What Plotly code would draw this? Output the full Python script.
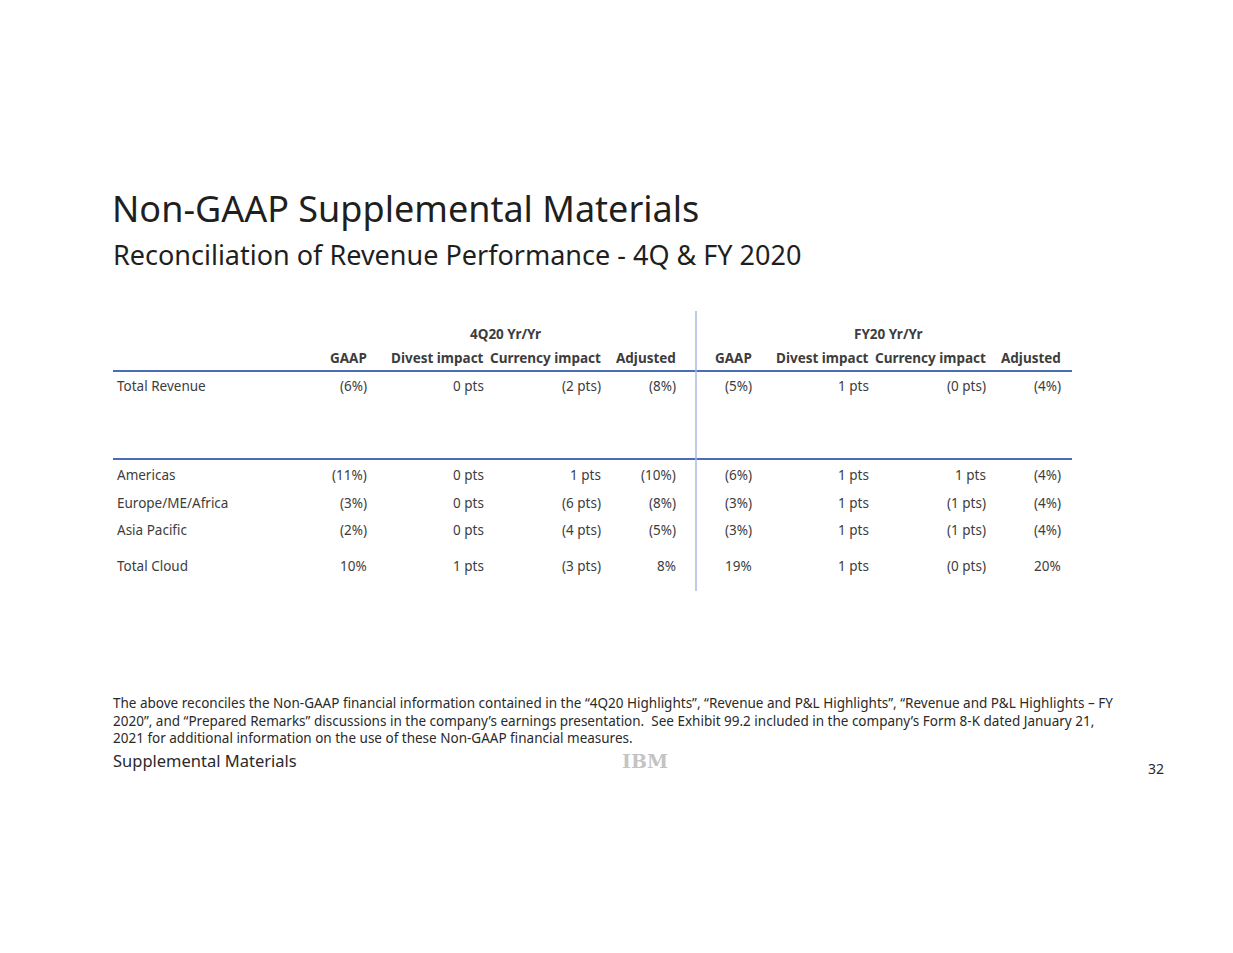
import plotly.graph_objects as go

W, H = 1233, 953
OFF = 8  # default page body margin

title = "Non-GAAP Supplemental Materials"
subtitle = "Reconciliation of Revenue Performance - 4Q & FY 2020"

group_headers = ["4Q20 Yr/Yr", "FY20 Yr/Yr"]
col_headers = ["GAAP", "Divest impact", "Currency impact", "Adjusted",
               "GAAP", "Divest impact", "Currency impact", "Adjusted"]

row_labels = ["Total Revenue", "Americas", "Europe/ME/Africa", "Asia Pacific", "Total Cloud"]

q4_gaap = ["(6%)", "(11%)", "(3%)", "(2%)", "10%"]
q4_divest = ["0 pts", "0 pts", "0 pts", "0 pts", "1 pts"]
q4_currency = ["(2 pts)", "1 pts", "(6 pts)", "(4 pts)", "(3 pts)"]
q4_adjusted = ["(8%)", "(10%)", "(8%)", "(5%)", "8%"]

fy_gaap = ["(5%)", "(6%)", "(3%)", "(3%)", "19%"]
fy_divest = ["1 pts", "1 pts", "1 pts", "1 pts", "1 pts"]
fy_currency = ["(0 pts)", "1 pts", "(1 pts)", "(1 pts)", "(0 pts)"]
fy_adjusted = ["(4%)", "(4%)", "(4%)", "(4%)", "20%"]

footnote = ("The above reconciles the Non-GAAP financial information contained in the \u201c4Q20 Highlights\u201d, "
            "\u201cRevenue and P&L Highlights\u201d, \u201cRevenue and P&L Highlights \u2013 FY<br>"
            "2020\u201d, and \u201cPrepared Remarks\u201d discussions in the company\u2019s earnings presentation.  "
            "See Exhibit 99.2 included in the company\u2019s Form 8-K dated January 21,<br>"
            "2021 for additional information on the use of these Non-GAAP financial measures.")
footer_left = "Supplemental Materials"
page_num = "32"

# layout positions (pixels, page coordinates)
col_x = [369, 486, 603, 678, 754, 871, 988, 1063]
row_y = [386, 475, 503, 530, 566]
group_x = [505, 888]

FONT = "Noto Sans"
TXT = "#3d3d3d"
FS = 13.5

fig = go.Figure()
fig.add_trace(go.Scatter(x=[OFF, W - OFF], y=[OFF, H - OFF], mode="markers", marker=dict(opacity=0),
                         hoverinfo="skip", showlegend=False))

ann = []
ann.append(dict(x=110, y=208, text=title, xanchor="left", yanchor="middle",
                font=dict(family=FONT, size=36, color="#1f1f1f")))
ann.append(dict(x=111, y=254, text=subtitle, xanchor="left", yanchor="middle",
                font=dict(family=FONT, size=27, color="#1f1f1f")))

for gx, gh in zip(group_x, group_headers):
    ann.append(dict(x=gx, y=334, text="<b>" + gh + "</b>", xanchor="center", yanchor="middle",
                    font=dict(family=FONT, size=FS, color=TXT)))
for cx, ch in zip(col_x, col_headers):
    ann.append(dict(x=cx, y=358, text="<b>" + ch + "</b>", xanchor="right", yanchor="middle",
                    font=dict(family=FONT, size=FS, color=TXT)))

for ry, rl in zip(row_y, row_labels):
    ann.append(dict(x=115, y=ry, text=rl, xanchor="left", yanchor="middle",
                    font=dict(family=FONT, size=FS, color=TXT)))

cols = [q4_gaap, q4_divest, q4_currency, q4_adjusted, fy_gaap, fy_divest, fy_currency, fy_adjusted]
for cx, vals in zip(col_x, cols):
    for ry, v in zip(row_y, vals):
        ann.append(dict(x=cx, y=ry, text=v, xanchor="right", yanchor="middle",
                        font=dict(family=FONT, size=FS, color=TXT)))

ann.append(dict(x=111, y=720, text=footnote, xanchor="left", yanchor="middle", align="left",
                font=dict(family=FONT, size=13.5, color="#2a2a2a")))
ann.append(dict(x=111, y=760, text=footer_left, xanchor="left", yanchor="middle",
                font=dict(family=FONT, size=16.5, color="#2a2a2a")))
ann.append(dict(x=645, y=761, text="<b>IBM</b>", xanchor="center", yanchor="middle",
                font=dict(family="DejaVu Serif", size=19, color="#c4c4c4")))
ann.append(dict(x=1166, y=768, text=page_num, xanchor="right", yanchor="middle",
                font=dict(family=FONT, size=14, color="#2a2a2a")))

for a in ann:
    a.update(xref="x", yref="y", showarrow=False)

shapes = [
    dict(type="line", x0=113, x1=1072, y0=371, y1=371, line=dict(color="#4b6cb7", width=2)),
    dict(type="line", x0=113, x1=1072, y0=459, y1=459, line=dict(color="#4b6cb7", width=2)),
    dict(type="line", x0=696, x1=696, y0=311, y1=591, line=dict(color="#a9b9e3", width=1.5)),
]
for s in shapes:
    s.update(xref="x", yref="y", layer="above")

fig.update_layout(
    width=W - 2 * OFF, height=H - 2 * OFF, margin=dict(l=0, r=0, t=0, b=0),
    paper_bgcolor="white", plot_bgcolor="white",
    xaxis=dict(range=[OFF, W - OFF], visible=False, fixedrange=True),
    yaxis=dict(range=[H - OFF, OFF], visible=False, fixedrange=True),
    annotations=ann, shapes=shapes, showlegend=False,
)
fig.write_html("out.html")
